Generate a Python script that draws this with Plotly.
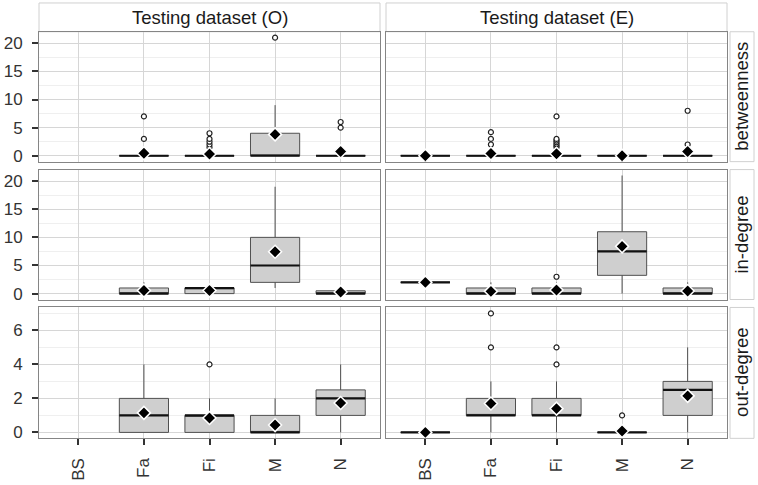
import plotly.graph_objects as go
from plotly.subplots import make_subplots

cats = ["BS", "Fa", "Fi", "M", "N"]
metrics = ["betweenness", "in-degree", "out-degree"]
datasets = ["Testing dataset (O)", "Testing dataset (E)"]

# betweenness, dataset O  (BS has no data)
btw_o_lo = [None, 0, 0, 0, 0]
btw_o_q1 = [None, 0, 0, 0, 0]
btw_o_med = [None, 0, 0, 0, 0]
btw_o_q3 = [None, 0, 0, 4, 0]
btw_o_hi = [None, 0, 0, 9, 0]
btw_o_mean = [None, 0.45, 0.3, 3.8, 0.75]
btw_o_out = {"Fa": [3, 7], "Fi": [1.5, 2, 2.5, 3, 4], "M": [21], "N": [5, 6]}

# betweenness, dataset E
btw_e_lo = [0, 0, 0, 0, 0]
btw_e_q1 = [0, 0, 0, 0, 0]
btw_e_med = [0, 0, 0, 0, 0]
btw_e_q3 = [0, 0, 0, 0, 0]
btw_e_hi = [0, 0, 0, 0, 0]
btw_e_mean = [0, 0.4, 0.35, 0, 0.75]
btw_e_out = {"Fa": [2, 3, 4.2], "Fi": [1.5, 1.8, 2.1, 2.4, 2.7, 3, 7], "N": [2, 8]}

# in-degree, dataset O
ind_o_lo = [None, 0, 0, 1, 0]
ind_o_q1 = [None, 0, 0, 2, 0]
ind_o_med = [None, 0, 1, 5, 0]
ind_o_q3 = [None, 1, 1, 10, 0.5]
ind_o_hi = [None, 2, 1, 19, 0.5]
ind_o_mean = [None, 0.55, 0.55, 7.45, 0.28]
ind_o_out = {}

# in-degree, dataset E
ind_e_lo = [2, 0, 0, 0, 0]
ind_e_q1 = [2, 0, 0, 3.25, 0]
ind_e_med = [2, 0, 0, 7.5, 0]
ind_e_q3 = [2, 1, 1, 11, 1]
ind_e_hi = [2, 2, 2, 21, 2]
ind_e_mean = [2, 0.4, 0.65, 8.4, 0.45]
ind_e_out = {"Fi": [3]}

# out-degree, dataset O
out_o_lo = [None, 0, 0, 0, 0]
out_o_q1 = [None, 0, 0, 0, 1]
out_o_med = [None, 1, 1, 0, 2]
out_o_q3 = [None, 2, 1, 1, 2.5]
out_o_hi = [None, 4, 2, 2, 4]
out_o_mean = [None, 1.15, 0.85, 0.43, 1.73]
out_o_out = {"Fi": [4]}

# out-degree, dataset E
out_e_lo = [0, 0, 0, 0, 0]
out_e_q1 = [0, 1, 1, 0, 1]
out_e_med = [0, 1, 1, 0, 2.5]
out_e_q3 = [0, 2, 2, 0, 3]
out_e_hi = [0, 3, 3, 0, 5]
out_e_mean = [0, 1.7, 1.4, 0.08, 2.15]
out_e_out = {"Fa": [5, 7], "Fi": [4, 5], "M": [1]}

panels = {
    (1, 1): (btw_o_lo, btw_o_q1, btw_o_med, btw_o_q3, btw_o_hi, btw_o_mean, btw_o_out),
    (1, 2): (btw_e_lo, btw_e_q1, btw_e_med, btw_e_q3, btw_e_hi, btw_e_mean, btw_e_out),
    (2, 1): (ind_o_lo, ind_o_q1, ind_o_med, ind_o_q3, ind_o_hi, ind_o_mean, ind_o_out),
    (2, 2): (ind_e_lo, ind_e_q1, ind_e_med, ind_e_q3, ind_e_hi, ind_e_mean, ind_e_out),
    (3, 1): (out_o_lo, out_o_q1, out_o_med, out_o_q3, out_o_hi, out_o_mean, out_o_out),
    (3, 2): (out_e_lo, out_e_q1, out_e_med, out_e_q3, out_e_hi, out_e_mean, out_e_out),
}

BOX_W = 0.75
W, H = 758, 485
FONT = "Liberation Sans, Arial, sans-serif"

fig = make_subplots(rows=3, cols=2)

for (r, c), (lo, q1, med, q3, hi, mean, out) in panels.items():
    idx = [i for i, v in enumerate(med) if v is not None]
    fig.add_trace(go.Box(
        x=idx,
        lowerfence=[lo[i] for i in idx], q1=[q1[i] for i in idx],
        median=[med[i] for i in idx], q3=[q3[i] for i in idx],
        upperfence=[hi[i] for i in idx],
        width=BOX_W, whiskerwidth=0, boxpoints=False,
        fillcolor="#cfcfcf", line=dict(color="#505050", width=1),
        showlegend=False, hoverinfo="skip"), row=r, col=c)
    # thick median bars, as in ggplot
    mx, my = [], []
    for i in idx:
        mx += [i - BOX_W / 2, i + BOX_W / 2, None]
        my += [med[i], med[i], None]
    fig.add_trace(go.Scatter(x=mx, y=my, mode="lines",
                             line=dict(color="#111111", width=2.2),
                             showlegend=False, hoverinfo="skip"), row=r, col=c)
    ox, oy = [], []
    for name, vals in out.items():
        ox += [cats.index(name)] * len(vals)
        oy += vals
    if ox:
        fig.add_trace(go.Scatter(x=ox, y=oy, mode="markers",
                                 marker=dict(symbol="circle", size=5, color="white",
                                             line=dict(color="#222222", width=1.2)),
                                 showlegend=False), row=r, col=c)
    fig.add_trace(go.Scatter(x=idx, y=[mean[i] for i in idx], mode="markers",
                             marker=dict(symbol="diamond", size=10, color="black",
                                         line=dict(color="white", width=1.5)),
                             showlegend=False), row=r, col=c)

col_dom = [[39 / W, 380 / W], [386 / W, 727 / W]]
row_px = [(32, 163), (171, 302), (310, 442)]
row_dom = [[1 - b / H, 1 - t / H] for t, b in row_px]
y_ranges = [[-1.05, 22.05], [-1.05, 22.05], [-0.35, 7.35]]
y_dtick = [5, 5, 2]

for r in range(1, 4):
    for c in range(1, 3):
        fig.update_xaxes(
            row=r, col=c, domain=col_dom[c - 1], range=[-0.6, 4.6],
            tickvals=list(range(len(cats))), ticktext=cats,
            showgrid=True, gridcolor="#d6d6d6", gridwidth=1, zeroline=False,
            showline=True, mirror=True, linecolor="#858585", linewidth=1,
            ticks="outside" if r == 3 else "", ticklen=6, tickwidth=1.5, tickcolor="#333333",
            showticklabels=(r == 3), tickangle=-90, ticklabelstandoff=6,
            tickfont=dict(family=FONT, size=17, color="#333333"))
        fig.update_yaxes(
            row=r, col=c, domain=row_dom[r - 1], range=y_ranges[r - 1],
            tick0=0, dtick=y_dtick[r - 1],
            showgrid=True, gridcolor="#d6d6d6", gridwidth=1, zeroline=False,
            minor=dict(showgrid=True, gridcolor="#efefef", tick0=0,
                       dtick=y_dtick[r - 1] / 2),
            showline=True, mirror=True, linecolor="#858585", linewidth=1,
            ticks="outside" if c == 1 else "", ticklen=6, tickwidth=1.5, tickcolor="#333333",
            showticklabels=(c == 1), ticklabelstandoff=6,
            tickfont=dict(family=FONT, size=17, color="#333333"))

shapes, annotations = [], []
for c, name in enumerate(datasets):
    x0, x1 = col_dom[c]
    shapes.append(dict(type="rect", xref="paper", yref="paper", x0=x0, x1=x1,
                       y0=1 - 32 / H, y1=1 - 3 / H, fillcolor="white",
                       line=dict(color="#d0d0d0", width=1), layer="below"))
    annotations.append(dict(text=name, xref="paper", yref="paper",
                            x=(x0 + x1) / 2, y=1 - 17.5 / H, showarrow=False,
                            xanchor="center", yanchor="middle",
                            font=dict(family=FONT, size=18.5, color="#1a1a1a")))
for r, name in enumerate(metrics):
    y0, y1 = row_dom[r]
    shapes.append(dict(type="rect", xref="paper", yref="paper", x0=730 / W, x1=754 / W,
                       y0=y0, y1=y1, fillcolor="white",
                       line=dict(color="#d0d0d0", width=1), layer="below"))
    annotations.append(dict(text=name, xref="paper", yref="paper",
                            x=742 / W, y=(y0 + y1) / 2, showarrow=False, textangle=-90,
                            xanchor="center", yanchor="middle",
                            font=dict(family=FONT, size=18.5, color="#1a1a1a")))

fig.update_layout(width=W, height=H, margin=dict(l=0, r=0, t=0, b=0),
                  plot_bgcolor="white", paper_bgcolor="white",
                  shapes=shapes, annotations=annotations, showlegend=False,
                  font=dict(family=FONT))

# the page's default 8px body margin would shift the whole figure
fig.write_html("out.html", config={"displayModeBar": False},
               post_script="document.body.style.margin = '0px';")
